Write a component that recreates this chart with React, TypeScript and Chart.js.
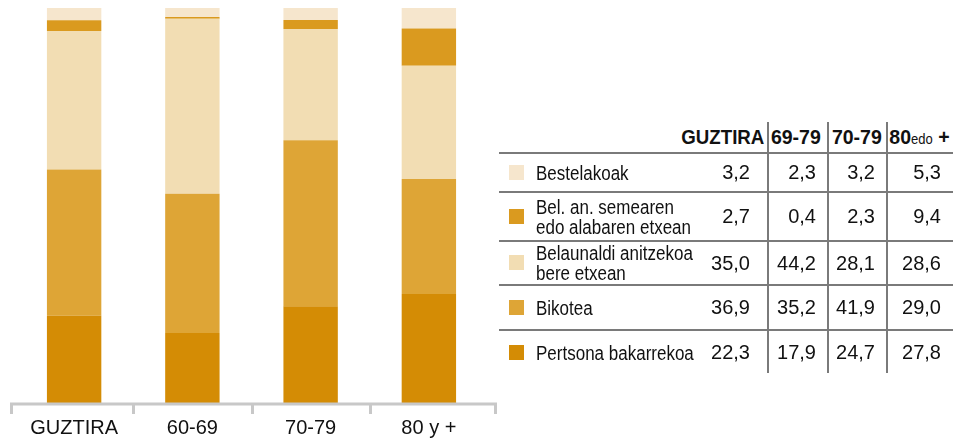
import React, { useEffect, useRef } from "react";
import { Chart, registerables } from "chart.js";

Chart.register(...registerables);

const categories = ["GUZTIRA", "60-69", "70-79", "80 y +"];
const pertsona = [22.3, 17.9, 24.7, 27.8];
const bikotea = [36.9, 35.2, 41.9, 29.0];
const belaunaldi = [35.0, 44.2, 28.1, 28.6];
const belAn = [2.7, 0.4, 2.3, 9.4];
const bestelakoak = [3.2, 2.3, 3.2, 5.3];

const seriesNames = [
  "Pertsona bakarrekoa",
  "Bikotea",
  "Belaunaldi anitzekoa\nbere etxean",
  "Bel. an. semearen\nedo alabaren etxean",
  "Bestelakoak",
];
const seriesColors = ["#d48c05", "#dea536", "#f2ddb3", "#da9a1f", "#f6e6cd"];
const tableHeaders = ["GUZTIRA", "69-79", "70-79", "80|edo|+"];

const fmt = (v: number) => v.toFixed(1).replace(".", ",");

const AXIS_GREY = "#c8c8c8";

// draws the axis tick marks at category boundaries and stretches the axis line to the ends
const axisTicks = {
  id: "axisTicks",
  afterDraw(chart: any) {
    const ctx = chart.ctx;
    const xs = chart.scales.x;
    const y = xs.top;
    const left = 10;
    const right = chart.width - 3;
    ctx.save();
    ctx.strokeStyle = AXIS_GREY;
    ctx.lineWidth = 3;
    ctx.beginPath();
    ctx.moveTo(left, y);
    ctx.lineTo(right, y);
    const marks = [left + 1.5];
    for (let i = 0; i < categories.length - 1; i++) {
      marks.push(Math.round((xs.getPixelForValue(i) + xs.getPixelForValue(i + 1)) / 2) + 0.5);
    }
    marks.push(right - 1.5);
    marks.forEach((mx) => {
      ctx.moveTo(mx, y - 1.5);
      ctx.lineTo(mx, y + 10);
    });
    ctx.stroke();
    ctx.restore();
  },
};

export default function App() {
  const ref = useRef<HTMLCanvasElement | null>(null);

  useEffect(() => {
    document.body.style.margin = "0";
    const series = [pertsona, bikotea, belaunaldi, belAn, bestelakoak];
    const chart = new Chart(ref.current as HTMLCanvasElement, {
      type: "bar",
      data: {
        labels: categories,
        datasets: series.map((d, i) => ({
          label: seriesNames[i],
          data: d,
          backgroundColor: seriesColors[i],
          borderWidth: 0,
          categoryPercentage: 1,
          barPercentage: 0.46,
        })),
      },
      options: {
        animation: false,
        responsive: false,
        maintainAspectRatio: false,
        layout: { padding: { left: 15, right: 12, top: 8, bottom: 0 } },
        plugins: { legend: { display: false }, tooltip: { enabled: false } },
        scales: {
          x: {
            stacked: true,
            offset: true,
            afterFit: (s: any) => {
              s.height = 36;
            },
            grid: {
              display: false,
              drawOnChartArea: false,
              drawTicks: true,
              tickLength: 10,
            },
            border: { display: false },
            ticks: {
              color: "#111",
              padding: 2,
              font: { family: "'Liberation Sans', Arial, sans-serif", size: 20 },
            },
          },
          y: {
            stacked: true,
            display: false,
            min: 0,
            max: 100,
          },
        },
      },
      plugins: [axisTicks],
    });
    return () => chart.destroy();
  }, []);

  const rowOrder = [4, 3, 2, 1, 0];
  const rowTops = [153, 192, 241, 285, 330];
  const rowBottoms = [192, 241, 285, 330, 375];
  const numRight = [750, 816, 875, 941];
  const vLines = [768, 828, 887];
  const font = "'Liberation Sans', Arial, sans-serif";
  const seriesData = [pertsona, bikotea, belaunaldi, belAn, bestelakoak];
  const headerCenters = [0, 796, 857, 919];

  const narrow = (content: React.ReactNode, scale: number, origin: string) => (
    <span style={{ display: "inline-block", transform: `scaleX(${scale})`, transformOrigin: origin, whiteSpace: "pre" }}>
      {content}
    </span>
  );

  return (
    <div style={{ position: "relative", width: 955, height: 440, background: "#fff", overflow: "hidden" }}>
      <canvas ref={ref} width={500} height={440} style={{ position: "absolute", left: 0, top: 0 }} />
      {tableHeaders.map((h, j) => {
        const parts = h.split("|");
        const style: React.CSSProperties = {
          position: "absolute",
          top: 122,
          height: 30,
          lineHeight: "30px",
          fontFamily: font,
          fontWeight: "bold",
          fontSize: 21,
          color: "#111",
          whiteSpace: "nowrap",
        };
        if (j === 0) {
          return (
            <div key={j} style={{ ...style, right: 955 - 764, textAlign: "right" }}>
              {narrow(h, 0.89, "right center")}
            </div>
          );
        }
        const content =
          parts.length > 1 ? (
            <>
              {parts[0]}
              <span style={{ fontSize: 14, fontWeight: "normal" }}>{parts[1]}</span>
              {" " + parts[2]}
            </>
          ) : (
            h
          );
        return (
          <div key={j} style={{ ...style, left: headerCenters[j] - 50, width: 100, textAlign: "center" }}>
            {narrow(content, 0.93, "center center")}
          </div>
        );
      })}
      {rowTops.map((t, i) => (
        <div key={"h" + i} style={{ position: "absolute", left: 499, width: 454, top: t - 1, height: 2, background: "#7a7a7a" }} />
      ))}
      {vLines.map((x, i) => (
        <div key={"v" + i} style={{ position: "absolute", left: x - 1, top: 122, width: 2, height: 251, background: "#7a7a7a" }} />
      ))}
      {rowOrder.map((si, r) => {
        const top = rowTops[r];
        const h = rowBottoms[r] - rowTops[r];
        const cy = top + h / 2;
        return (
          <React.Fragment key={"r" + r}>
            <div style={{ position: "absolute", left: 509, top: cy - 8, width: 15, height: 15, background: seriesColors[si] }} />
            <div
              style={{
                position: "absolute",
                left: 536,
                top: top,
                height: h,
                display: "flex",
                alignItems: "center",
                fontFamily: font,
                fontSize: 20,
                lineHeight: "20px",
                color: "#111",
                whiteSpace: "pre",
              }}
            >
              {narrow(seriesNames[si], 0.85, "left center")}
            </div>
            {seriesData[si].map((v, j) => (
              <div
                key={"n" + j}
                style={{
                  position: "absolute",
                  right: 955 - numRight[j],
                  top: top,
                  height: h,
                  display: "flex",
                  alignItems: "center",
                  fontFamily: font,
                  fontSize: 20,
                  color: "#111",
                }}
              >
                {fmt(v)}
              </div>
            ))}
          </React.Fragment>
        );
      })}
    </div>
  );
}
